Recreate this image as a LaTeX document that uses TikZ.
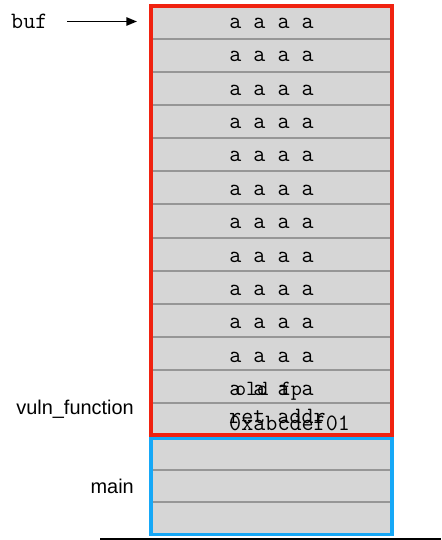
\documentclass[tikz,border=0pt]{standalone}
\usepackage{fontspec}
\setmainfont{Liberation Sans}
\usetikzlibrary{arrows.meta,positioning}
\definecolor{framered}{RGB}{240,34,16}
\definecolor{frameblue}{RGB}{22,168,247}
\definecolor{cellgray}{RGB}{214,214,214}
\definecolor{rulegray}{RGB}{150,150,150}
\tikzset{
  cellword/.style={font=\ttfamily\fontsize{20}{24}\selectfont,inner sep=0pt},
  oldword/.style={font=\ttfamily\fontsize{18.5}{22}\selectfont,inner sep=0pt},
  frametag/.style={font=\fontsize{17}{20}\selectfont,inner sep=0pt},
}

\begin{document}
\begin{tikzpicture}[x=0.03cm,y=-0.03cm]
\useasboundingbox(0,0)rectangle(441,540);
% stack cells
\fill[cellgray](151,6)rectangle(392,536);
\foreach \k in {1,...,12}
  \draw[rulegray,line width=1.7pt](151,{6+33.08*\k})--(392,{6+33.08*\k});
\foreach \k in {1,2}
  \draw[rulegray,line width=1.7pt](151,{438.5+31.8*\k})--(392,{438.5+31.8*\k});
\draw[framered,line width=3.4pt](151,6)rectangle(392,435);
\draw[frameblue,line width=3.4pt](151,438.5)rectangle(392,534.5);
% cell contents
\foreach \k in {1,...,12}
  \node[cellword,anchor=base](a\k)at(271.5,{28.3+33.4*(\k-1)}){a a a a};
\node[oldword,anchor=base](oldfp)at(268.5,395.7){old fp};
\node[cellword,anchor=base west](retaddr)at(229,423.5){ret addr};
\node[cellword,anchor=base west](retval)at(229,430){0xabcdef01};
% pointer and frame names
\node[cellword,anchor=base west](buf)at(11,28.5){buf};
\coordinate(buftail)at(67,21.5);
\coordinate(bufptr)at(137,21.5);
\draw[-{Triangle[length=9pt,width=7pt]},line width=1.5pt](buftail)--(bufptr);
\node[frametag,anchor=base east](vuln)at(134,414){vuln\_function};
\node[frametag,anchor=base east](mainlbl)at(134,493){main};
\draw[line width=1.7pt](100,539.2)--(441,539.2);
\end{tikzpicture}
\end{document}
